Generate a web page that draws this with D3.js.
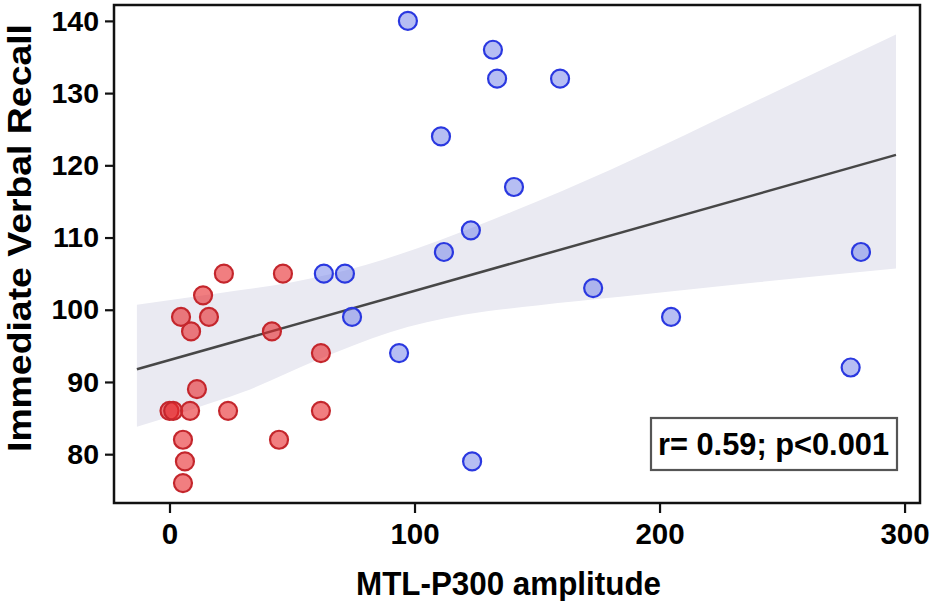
<!DOCTYPE html>
<html><head><meta charset="utf-8">
<script src="https://cdn.jsdelivr.net/npm/d3@7"></script>
<style>html,body{margin:0;padding:0;background:#fff;}svg{display:block;}</style>
</head><body>
<svg id="chart" width="930" height="601"></svg>
<script>
// ---- data ----
const redX = [22.2, 46.3, 13.7, 4.7, 16.1, 8.8, 41.8, 61.8, 11.2, 0, 1.5, 8.4, 23.9, 61.8, 5.5, 44.7, 6.3, 5.5];
const redY = [105, 105, 102, 99, 99, 97, 97, 94, 89, 86, 86, 86, 86, 86, 82, 82, 79, 76];
const blueX = [97.3, 132, 133.7, 159.4, 110.8, 140.6, 123, 112, 63, 71.6, 74.5, 93.7, 123.5, 172.9, 204.7, 282.2, 278];
const blueY = [140, 136, 132, 132, 124, 117, 111, 108, 105, 105, 99, 94, 79, 103, 99, 108, 92];
const fitX = [-13.3, 296.5];
const fitY = [91.76, 121.44];
const bandUpperX = [-13.3, 20, 50, 80, 110, 140, 180, 240, 296.5];
const bandUpper  = [100.7, 102.3, 103.8, 106.2, 109.6, 113.6, 119.4, 129.0, 138.1];
const bandLowerX = [-13.3, 10, 30, 60, 90, 120, 150, 184, 240, 296.5];
const bandLower  = [83.8, 86.3, 88.6, 93.0, 96.9, 99.3, 100.6, 101.8, 103.8, 105.7];
const xTicks = [0, 100, 200, 300];
const yTicks = [80, 90, 100, 110, 120, 130, 140];
const xTitle = "MTL-P300 amplitude";
const yTitle = "Immediate Verbal Recall";
const statText = "r= 0.59; p<0.001";

// ---- layout ----
const svg = d3.select("#chart");
const L = 114, R = 920, T = 5, B = 503;
const x = d3.scaleLinear().domain([-22.65, 306.3]).range([L, R]);
const y = d3.scaleLinear().domain([73.24, 142.2]).range([B, T]);
const font = "'Liberation Sans', Arial, Helvetica, sans-serif";

// band
const upperPts = bandUpperX.map((v, i) => [v, bandUpper[i]]);
const lowerPts = bandLowerX.map((v, i) => [v, bandLower[i]]).reverse();
const mk = d3.line().x(d => x(d[0])).y(d => y(d[1])).curve(d3.curveMonotoneX);
const upPath = mk(upperPts);
const loPath = mk(lowerPts);
svg.append("path")
  .attr("d", upPath + "L" + loPath.slice(1) + "Z")
  .attr("fill", "#eaeaf2");

// fit line
svg.append("line")
  .attr("x1", x(fitX[0])).attr("y1", y(fitY[0]))
  .attr("x2", x(fitX[1])).attr("y2", y(fitY[1]))
  .attr("stroke", "#474747").attr("stroke-width", 2.5);

// points
const red = redX.map((v, i) => ({x: v, y: redY[i]}));
const blue = blueX.map((v, i) => ({x: v, y: blueY[i]}));
svg.append("g").selectAll("circle").data(red).join("circle")
  .attr("cx", d => x(d.x)).attr("cy", d => y(d.y)).attr("r", 9)
  .attr("fill", "rgba(232,40,44,0.6)").attr("stroke", "#c4262c").attr("stroke-width", 2.2);
svg.append("g").selectAll("circle").data(blue).join("circle")
  .attr("cx", d => x(d.x)).attr("cy", d => y(d.y)).attr("r", 9)
  .attr("fill", "rgba(110,125,232,0.5)").attr("stroke", "#2a38e0").attr("stroke-width", 2.2);

// frame
svg.append("rect").attr("x", L).attr("y", T).attr("width", R - L).attr("height", B - T)
  .attr("fill", "none").attr("stroke", "#111").attr("stroke-width", 2.5);

// axes
const yAxis = svg.append("g").attr("transform", `translate(${L},0)`)
  .call(d3.axisLeft(y).tickValues(yTicks).tickSize(9).tickPadding(6));
const xAxis = svg.append("g").attr("transform", `translate(0,${B})`)
  .call(d3.axisBottom(x).tickValues(xTicks).tickSize(10).tickPadding(10));
[yAxis, xAxis].forEach(a => {
  a.select(".domain").remove();
  a.selectAll("line").attr("stroke", "#111").attr("stroke-width", 2.2);
  a.selectAll("text").attr("font-family", font).attr("font-weight", "bold")
    .attr("font-size", 28.5).attr("fill", "#000");
});
xAxis.selectAll("text").attr("font-size", 29.5);

// titles
svg.append("text").attr("x", (356 + 661) / 2).attr("y", 595)
  .attr("text-anchor", "middle").attr("font-family", font).attr("font-weight", "bold")
  .attr("font-size", 34).attr("textLength", 305).attr("lengthAdjust", "spacingAndGlyphs")
  .text(xTitle);
svg.append("text").attr("transform", "translate(31,238) rotate(-90)")
  .attr("text-anchor", "middle").attr("font-family", font).attr("font-weight", "bold")
  .attr("font-size", 33).attr("textLength", 428).attr("lengthAdjust", "spacingAndGlyphs")
  .text(yTitle);

// stat box
svg.append("rect").attr("x", 651).attr("y", 418).attr("width", 246).attr("height", 52)
  .attr("fill", "#fff").attr("stroke", "#555").attr("stroke-width", 2.2);
svg.append("text").attr("x", 658).attr("y", 455)
  .attr("font-family", font).attr("font-weight", "bold").attr("font-size", 31)
  .attr("textLength", 231).attr("lengthAdjust", "spacingAndGlyphs")
  .text(statText);
</script>
</body></html>
